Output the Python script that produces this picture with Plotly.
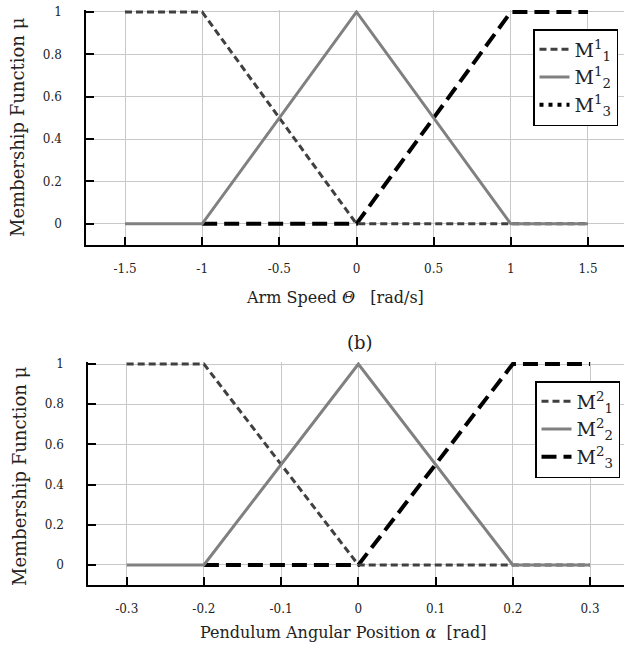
import plotly.graph_objects as go

W, H = 624, 646

# ---- data: top subplot (Arm speed) ----
arm_x_m1 = [-1.5, -1, 0, 1.5]
arm_y_m1 = [1, 1, 0, 0]
arm_x_m2 = [-1.5, -1, 0, 1, 1.5]
arm_y_m2 = [0, 0, 1, 0, 0]
arm_x_m3 = [-1, 0, 1, 1.5]
arm_y_m3 = [0, 0, 1, 1]
arm_ticks = [-1.5, -1, -0.5, 0, 0.5, 1, 1.5]
arm_ticklabels = ["-1.5", "-1", "-0.5", "0", "0.5", "1", "1.5"]

# ---- data: bottom subplot (Pendulum angle) ----
pen_x_m1 = [-0.3, -0.2, 0, 0.3]
pen_y_m1 = [1, 1, 0, 0]
pen_x_m2 = [-0.3, -0.2, 0, 0.2, 0.3]
pen_y_m2 = [0, 0, 1, 0, 0]
pen_x_m3 = [-0.2, 0, 0.2, 0.3]
pen_y_m3 = [0, 0, 1, 1]
pen_ticks = [-0.3, -0.2, -0.1, 0, 0.1, 0.2, 0.3]
pen_ticklabels = ["-0.3", "-0.2", "-0.1", "0", "0.1", "0.2", "0.3"]

mu_ticks = [0, 0.2, 0.4, 0.6, 0.8, 1]
mu_ticklabels = ["0", "0.2", "0.4", "0.6", "0.8", "1"]

FONT = "DejaVu Serif"
TXT = "#222222"
C1, C2, C3 = "#404040", "#808080", "#000000"
D1, D3 = "7px,4px", "15px,7px"


def lab(sup, sub):
    return "M<sup>%s</sup><sub>%s</sub>" % (sup, sub)


fig = go.Figure()

# top subplot: draw order M3, M1, M2 so overlaps look like the original
fig.add_trace(go.Scatter(x=arm_x_m3, y=arm_y_m3, mode="lines", showlegend=False,
                         line=dict(color=C3, width=4, dash=D3), xaxis="x", yaxis="y"))
fig.add_trace(go.Scatter(x=arm_x_m1, y=arm_y_m1, mode="lines", name=lab(1, 1), legendrank=1,
                         line=dict(color=C1, width=3, dash=D1), xaxis="x", yaxis="y",
                         legend="legend"))
fig.add_trace(go.Scatter(x=arm_x_m2, y=arm_y_m2, mode="lines", name=lab(1, 2), legendrank=2,
                         line=dict(color=C2, width=3), xaxis="x", yaxis="y", legend="legend"))
# legend entry of the original shows M_3 as dotted
fig.add_trace(go.Scatter(x=[None], y=[None], mode="lines", name=lab(1, 3), legendrank=3,
                         line=dict(color=C3, width=4, dash="4px,5px"), xaxis="x", yaxis="y",
                         legend="legend"))

# bottom subplot
fig.add_trace(go.Scatter(x=pen_x_m3, y=pen_y_m3, mode="lines", name=lab(2, 3), legendrank=3,
                         line=dict(color=C3, width=4, dash=D3), xaxis="x2", yaxis="y2",
                         legend="legend2"))
fig.add_trace(go.Scatter(x=pen_x_m1, y=pen_y_m1, mode="lines", name=lab(2, 1), legendrank=1,
                         line=dict(color=C1, width=3, dash=D1), xaxis="x2", yaxis="y2",
                         legend="legend2"))
fig.add_trace(go.Scatter(x=pen_x_m2, y=pen_y_m2, mode="lines", name=lab(2, 2), legendrank=2,
                         line=dict(color=C2, width=3), xaxis="x2", yaxis="y2",
                         legend="legend2"))


def px_x(p):
    return p / W


def px_y(p):
    return 1 - p / H


axis_common = dict(showline=True, linecolor="black", linewidth=1.5,
                   ticks="inside", ticklen=8, tickwidth=1.5, tickcolor="black",
                   showgrid=True, gridcolor="#c8c8c8", gridwidth=1.2, zeroline=False,
                   tickfont=dict(family=FONT, size=12, color=TXT),
                   automargin=False, fixedrange=True)

fig.update_layout(
    width=W, height=H, margin=dict(l=0, r=0, t=0, b=0),
    plot_bgcolor="white", paper_bgcolor="white",
    font=dict(family=FONT, color=TXT),
    xaxis=dict(domain=[px_x(86), 1], range=[-1.7527, 1.7333], anchor="y",
               tickvals=arm_ticks, ticktext=arm_ticklabels, ticklabelstandoff=12, **axis_common),
    yaxis=dict(domain=[px_y(245), px_y(10)], range=[-0.1, 1.0094], anchor="x",
               tickvals=mu_ticks, ticktext=mu_ticklabels, ticklabelstandoff=20, **axis_common),
    xaxis2=dict(domain=[px_x(88), 1], range=[-0.3501, 0.344], anchor="y2",
                tickvals=pen_ticks, ticktext=pen_ticklabels, ticklabelstandoff=12, **axis_common),
    yaxis2=dict(domain=[px_y(585), px_y(362)], range=[-0.1, 1.01], anchor="x2",
                tickvals=mu_ticks, ticktext=mu_ticklabels, ticklabelstandoff=20, **axis_common),
    legend=dict(x=px_x(533), y=px_y(29), xanchor="left", yanchor="top",
                bgcolor="white", bordercolor="black", borderwidth=1.5,
                font=dict(family=FONT, size=19, color=TXT), tracegroupgap=0),
    legend2=dict(x=px_x(535), y=px_y(381), xanchor="left", yanchor="top",
                 bgcolor="white", bordercolor="black", borderwidth=1.5,
                 font=dict(family=FONT, size=19, color=TXT), tracegroupgap=0),
    annotations=[
        dict(text="Membership Function \u03bc", x=px_x(17), y=px_y(127), xref="paper", yref="paper",
             textangle=-90, showarrow=False, font=dict(family=FONT, size=18, color=TXT),
             xanchor="center", yanchor="middle"),
        dict(text="Membership Function \u03bc", x=px_x(19), y=px_y(476), xref="paper", yref="paper",
             textangle=-90, showarrow=False, font=dict(family=FONT, size=18, color=TXT),
             xanchor="center", yanchor="middle"),
        dict(text="Arm Speed <i>\u0398</i>   [rad/s]", x=px_x(335), y=px_y(297),
             xref="paper", yref="paper", showarrow=False,
             font=dict(family=FONT, size=16, color=TXT), xanchor="center", yanchor="middle"),
        dict(text="Pendulum Angular Position <i>\u03b1</i>  [rad]", x=px_x(343), y=px_y(632),
             xref="paper", yref="paper", showarrow=False,
             font=dict(family=FONT, size=16, color=TXT), xanchor="center", yanchor="middle"),
        dict(text="(b)", x=px_x(360), y=px_y(342), xref="paper", yref="paper", showarrow=False,
             font=dict(family=FONT, size=18, color=TXT), xanchor="center", yanchor="middle"),
    ],
)

fig.write_html("out.html")
